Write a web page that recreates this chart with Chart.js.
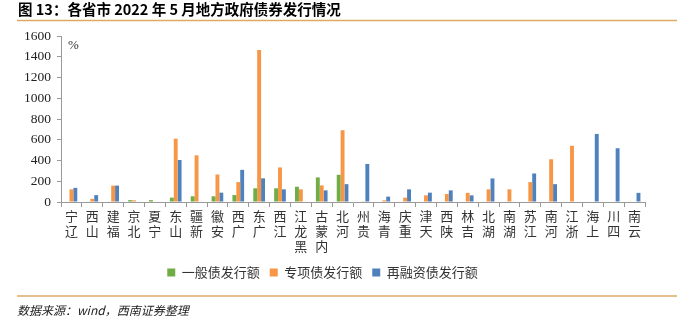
<!DOCTYPE html>
<html>
<head>
<meta charset="utf-8">
<script src="https://cdn.jsdelivr.net/npm/chart.js"></script>
<style>
  html, body { margin: 0; padding: 0; background: #fff; }
  #wrap { position: relative; width: 679px; height: 329px; }
</style>
</head>
<body>
<div id="wrap"><canvas id="bondChart"></canvas></div>
<script>
const provinces = ['辽宁', '山西', '福建', '北京', '宁夏', '山东', '新疆', '安徽', '广西', '广东',
  '江西', '黑龙江', '内蒙古', '河北', '贵州', '青海', '重庆', '天津', '陕西', '吉林',
  '湖北', '湖南', '江苏', '河南', '浙江', '上海', '四川', '云南'];
const generalBonds = [4, 4, 4, 18, 18, 42, 55, 55, 67, 132, 132, 147, 237, 262, 0, 0, 0, 0, 0, 0, 0, 0, 0, 0, 0, 0, 0, 0];
const specialBonds = [122, 30, 158, 16, 0, 610, 450, 265, 192, 1465, 333, 122, 160, 692, 3, 16, 42, 64, 77, 88, 122, 122, 192, 412, 542, 0, 0, 0];
const refinanceBonds = [136, 66, 158, 0, 0, 405, 5, 90, 310, 228, 122, 0, 112, 172, 367, 52, 122, 90, 112, 64, 227, 0, 275, 172, 0, 656, 518, 88];
const seriesNames = ['一般债发行额', '专项债发行额', '再融资债发行额'];
const yTicks = [0, 200, 400, 600, 800, 1000, 1200, 1400, 1600];

const CJK = '"Noto Sans CJK SC", "Noto Sans", sans-serif';
const SERIF = '"Liberation Serif", "DejaVu Serif", serif';

// rotated-270 style category labels: one character per line, read bottom to top
const stackedLabels = provinces.map(p => p.split('').reverse());

const pageDecor = {
  id: 'pageDecor',
  afterDraw(chart) {
    const ctx = chart.ctx;
    const area = chart.chartArea;
    ctx.save();
    ctx.fillStyle = '#000';
    ctx.textBaseline = 'middle';
    ctx.font = 'bold 14.5px ' + CJK;
    ctx.fillText('图 13：各省市 2022 年 5 月地方政府债券发行情况', 18, 9);

    ctx.strokeStyle = '#DDAA66';
    ctx.lineWidth = 1.5;
    ctx.beginPath();
    ctx.moveTo(17, 20.5); ctx.lineTo(677, 20.5);
    ctx.moveTo(17, 296); ctx.lineTo(677, 296);
    ctx.stroke();

    ctx.font = 'italic 12px ' + CJK;
    ctx.fillStyle = '#222';
    ctx.fillText('数据来源：wind，西南证券整理', 17, 310);

    ctx.font = '13px ' + SERIF;
    ctx.fillStyle = '#333';
    ctx.fillText('%', area.left + 7, area.top + 10);
    ctx.restore();
  }
};

new Chart(document.getElementById('bondChart'), {
  type: 'bar',
  data: {
    labels: stackedLabels,
    datasets: [
      { label: seriesNames[0], data: generalBonds, backgroundColor: '#70AD47' },
      { label: seriesNames[1], data: specialBonds, backgroundColor: '#F79646' },
      { label: seriesNames[2], data: refinanceBonds, backgroundColor: '#4F81BD' }
    ]
  },
  options: {
    responsive: true,
    maintainAspectRatio: false,
    animation: false,
    layout: { padding: { top: 36, right: 34, bottom: 40, left: 0 } },
    datasets: { bar: { categoryPercentage: 0.56, barPercentage: 1.0 } },
    plugins: {
      legend: {
        position: 'bottom',
        labels: {
          boxWidth: 8,
          boxHeight: 8,
          padding: 10,
          color: '#333',
          font: { family: CJK, size: 13 }
        }
      },
      tooltip: { enabled: false }
    },
    scales: {
      x: {
        grid: { display: true, drawOnChartArea: false, offset: true, color: '#999', tickLength: 5 },
        border: { color: '#999', width: 1 },
        ticks: {
          autoSkip: false,
          maxRotation: 0,
          minRotation: 0,
          padding: 2,
          color: '#333',
          font: { family: CJK, size: 13, lineHeight: 1.15 }
        },
        afterFit(scale) { scale.height = 54; }
      },
      y: {
        min: 0,
        max: 1600,
        afterBuildTicks(scale) { scale.ticks = yTicks.map(v => ({ value: v })); },
        grid: { display: true, drawOnChartArea: false, color: '#999', tickLength: 4 },
        border: { color: '#999', width: 1 },
        ticks: {
          padding: 6,
          color: '#222',
          font: { family: SERIF, size: 13.5 },
          callback: v => String(v)
        },
        afterFit(scale) { scale.width = 61; }
      }
    }
  },
  plugins: [pageDecor]
});
</script>
</body>
</html>
